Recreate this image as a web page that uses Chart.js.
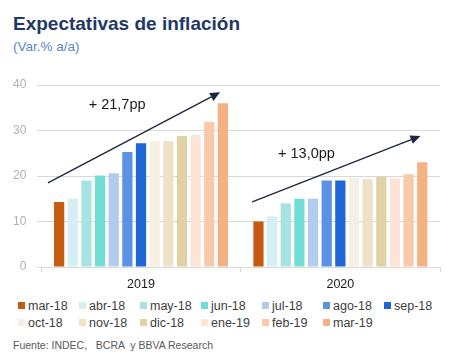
<!DOCTYPE html>
<html lang="es">
<head>
  <meta charset="UTF-8">
  <title>Expectativas de inflación</title>
  <script src="https://cdn.jsdelivr.net/npm/chart.js"></script>
  <style>
    body { margin: 0; font-family: Arial, "Liberation Sans", sans-serif; background: #fff; }
    .wrap { position: relative; width: 453px; height: 358px; overflow: hidden; }
    .title { position: absolute; left: 13px; top: 13px; font-size: 19px; font-weight: bold; color: #1f3864; }
    .sub { position: absolute; left: 13px; top: 39px; font-size: 13.5px; color: #5b86c2; }
    .chartbox { position: absolute; left: 0; top: 60px; width: 453px; height: 237px; }
    .legend { position: absolute; left: 18px; top: 298px; display: grid; grid-template-columns: repeat(7, 61px); row-gap: 2px; font-size: 12.5px; color: #404040; }
    .legend span.item { display: flex; align-items: center; white-space: nowrap; height: 15px; }
    .legend i { display: inline-block; width: 7px; height: 7px; margin-right: 3px; }
    .src { position: absolute; left: 13px; top: 339px; font-size: 10.5px; color: #595959; white-space: pre; }
  </style>
</head>
<body>
  <div class="wrap">
    <div class="title">Expectativas de inflación</div>
    <div class="sub">(Var.%  a/a)</div>
    <div class="chartbox"><canvas id="chart"></canvas></div>
    <div class="legend" id="legend"></div>
    <div class="src">Fuente: INDEC,   BCRA  y BBVA Research</div>
  </div>

  <script>
    // expectation for year (category) as surveyed in each month (series)
    const years = ['2019', '2020'];
    const surveys = ['mar-18', 'abr-18', 'may-18', 'jun-18', 'jul-18', 'ago-18', 'sep-18',
                     'oct-18', 'nov-18', 'dic-18', 'ene-19', 'feb-19', 'mar-19'];
    const exp2019 = [14.3, 15.0, 19.0, 20.1, 20.6, 25.3, 27.2, 27.7, 27.7, 28.8, 29.0, 31.9, 36.0];
    const exp2020 = [10.0, 11.1, 14.0, 15.0, 15.0, 19.0, 19.0, 19.6, 19.3, 19.9, 19.5, 20.4, 23.0];
    const colors = ['#c55a11', '#d6eff5', '#a8e3e4', '#72dcd6', '#b4cbf0', '#5b92e5', '#1f66d9',
                    '#f5f0e3', '#ede2c8', '#e1d2a5', '#fce4d6', '#f9c9a9', '#f4b183'];
    const yTicks = [0, 10, 20, 30, 40];

    // arrows and labels, in (category index, value) units
    const arrows = [
      { from: [-0.467, 18.5], to: [0.397, 38.4] },
      { from: [0.558, 14.3], to: [1.402, 28.8] }
    ];
    const notes = [
      { text: '+ 21,7pp', at: [-0.12, 35.6] },
      { text: '+ 13,0pp', at: [0.83, 24.8] }
    ];

    const datasets = surveys.map((s, i) => ({
      label: s,
      data: [exp2019[i], exp2020[i]],
      backgroundColor: colors[i],
      categoryPercentage: 0.89,
      barPercentage: 0.75
    }));

    const arrowPlugin = {
      id: 'arrows',
      afterDatasetsDraw(chart) {
        const { ctx, scales: { x, y } } = chart;
        const px = v => x.getPixelForValue(v);
        ctx.save();
        ctx.strokeStyle = '#1c2640';
        ctx.fillStyle = '#1c2640';
        ctx.lineWidth = 1.3;
        arrows.forEach(a => {
          const x1 = px(a.from[0]), y1 = y.getPixelForValue(a.from[1]);
          const x2 = px(a.to[0]), y2 = y.getPixelForValue(a.to[1]);
          const ang = Math.atan2(y2 - y1, x2 - x1);
          const len = 10, w = 4.5;
          const bx = x2 - len * Math.cos(ang), by = y2 - len * Math.sin(ang);
          ctx.beginPath();
          ctx.moveTo(x1, y1);
          ctx.lineTo(bx, by);
          ctx.stroke();
          ctx.beginPath();
          ctx.moveTo(x2, y2);
          ctx.lineTo(bx + w * Math.sin(ang), by - w * Math.cos(ang));
          ctx.lineTo(bx - w * Math.sin(ang), by + w * Math.cos(ang));
          ctx.closePath();
          ctx.fill();
        });
        ctx.font = '14.5px Arial, "Liberation Sans", sans-serif';
        ctx.fillStyle = '#1a1a1a';
        ctx.textAlign = 'center';
        ctx.textBaseline = 'middle';
        notes.forEach(n => ctx.fillText(n.text, px(n.at[0]), y.getPixelForValue(n.at[1])));
        ctx.restore();
      }
    };

    new Chart(document.getElementById('chart'), {
      type: 'bar',
      data: { labels: years, datasets },
      plugins: [arrowPlugin],
      options: {
        responsive: true,
        maintainAspectRatio: false,
        animation: false,
        layout: { padding: { left: 2, right: 13, top: 25, bottom: 0 } },
        plugins: { legend: { display: false }, tooltip: { enabled: false } },
        scales: {
          x: {
            grid: { display: true, drawOnChartArea: false, tickLength: 5, color: '#d9d9d9' },
            border: { color: '#d9d9d9' },
            ticks: { color: '#1a1a1a', font: { size: 12.5, family: 'Arial' }, padding: 5 }
          },
          y: {
            min: 0, max: 40,
            afterBuildTicks: s => { s.ticks = yTicks.map(v => ({ value: v })); },
            grid: { color: '#d9d9d9', tickLength: 4 },
            border: { display: false },
            ticks: { color: '#b0b0b0', font: { size: 12, family: 'Arial' }, padding: 11 }
          }
        }
      }
    });

    const legend = document.getElementById('legend');
    surveys.forEach((s, i) => {
      const el = document.createElement('span');
      el.className = 'item';
      el.innerHTML = '<i style="background:' + colors[i] + '"></i>' + s;
      legend.appendChild(el);
    });
  </script>
</body>
</html>
